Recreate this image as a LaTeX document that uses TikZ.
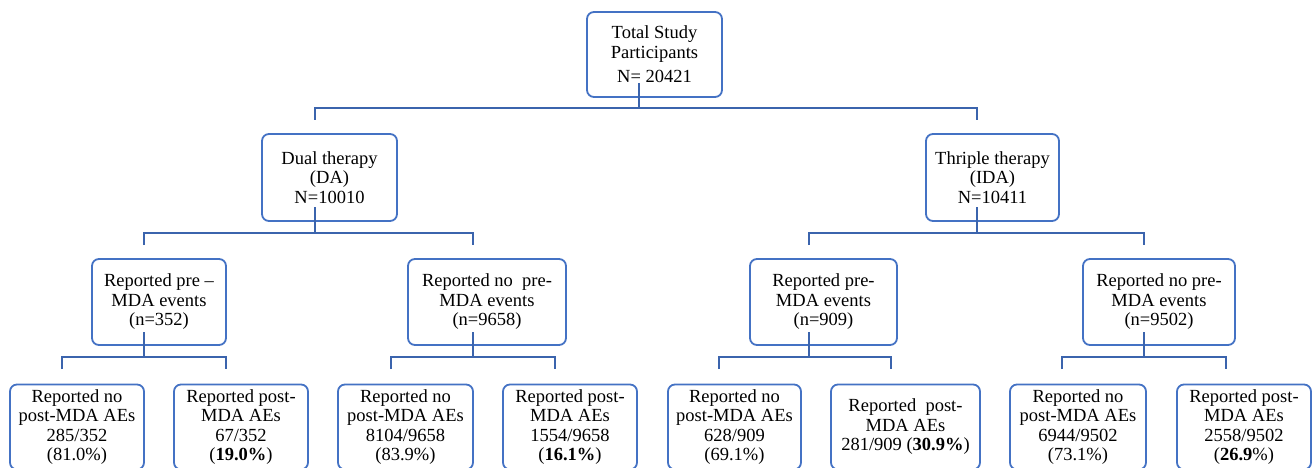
\documentclass[tikz,border=0pt]{standalone}
\usepackage{fontspec}
\setmainfont{Liberation Serif}
\definecolor{boxblue}{HTML}{4472C4}
\definecolor{lineblue}{HTML}{3B64AD}
\begin{document}
\begin{tikzpicture}[x=1pt,y=-1pt,
  box/.style={draw=boxblue, line width=1.8pt, rounded corners=7pt, align=center, inner sep=0pt,
    font=\fontsize{18.5}{19.5}\selectfont},
  conn/.style={draw=lineblue, line width=2pt}]
\useasboundingbox (0,0) rectangle (1312,468);
% level 0
\node[box, minimum width=135pt, minimum height=85pt] (top) at (654.5,54.5)
  {Total Study\\Participants\\[5pt]N= 20421};
% level 1
\node[box, minimum width=135pt, minimum height=87pt] (da) at (329.5,177.5)
  {Dual therapy\\(DA)\\N=10010};
\node[box, minimum width=133pt, minimum height=87pt] (ida) at (992.5,177.5)
  {Thriple therapy\\(IDA)\\N=10411};
% level 2
\node[box, minimum width=134pt, minimum height=86pt] (b1) at (159,302)
  {Reported pre --\\MDA events\\(n=352)};
\node[box, minimum width=158pt, minimum height=86pt] (b2) at (487,302)
  {Reported no\ \ pre-\\MDA events\\(n=9658)};
\node[box, minimum width=147pt, minimum height=86pt] (b3) at (823.5,302)
  {Reported pre-\\MDA events\\(n=909)};
\node[box, minimum width=152pt, minimum height=86pt] (b4) at (1159,302)
  {Reported no pre-\\MDA events\\(n=9502)};
% level 3
\node[box, minimum width=134pt, minimum height=85pt] (c1) at (77,427)
  {Reported no\\post-MDA AEs\\285/352\\(81.0\%)};
\node[box, minimum width=134pt, minimum height=85pt] (c2) at (241,427)
  {Reported post-\\MDA AEs\\67/352\\(\textbf{19.0\%})};
\node[box, minimum width=135pt, minimum height=85pt] (c3) at (405.5,427)
  {Reported no\\post-MDA AEs\\8104/9658\\(83.9\%)};
\node[box, minimum width=134pt, minimum height=85pt] (c4) at (570,427)
  {Reported post-\\MDA AEs\\1554/9658\\(\textbf{16.1\%})};
\node[box, minimum width=133pt, minimum height=85pt] (c5) at (734.5,427)
  {Reported no\\post-MDA AEs\\628/909\\(69.1\%)};
\node[box, minimum width=149pt, minimum height=85pt] (c6) at (905.5,427)
  {Reported\ \ post-\\MDA AEs\\281/909 (\textbf{30.9\%})};
\node[box, minimum width=136pt, minimum height=85pt] (c7) at (1078,427)
  {Reported no\\post-MDA AEs\\6944/9502\\(73.1\%)};
\node[box, minimum width=134pt, minimum height=85pt] (c8) at (1244,427)
  {Reported post-\\MDA AEs\\2558/9502\\(\textbf{26.9}\%)};
% connector points
\coordinate (top-s) at (639,83);
\coordinate (da-d) at (315,120);
\coordinate (ida-d) at (977,120);
\coordinate (da-s) at (315,207);
\coordinate (ida-s) at (977,207);
\coordinate (b1-d) at (144,245);
\coordinate (b2-d) at (473,245);
\coordinate (b3-d) at (809,245);
\coordinate (b4-d) at (1144,245);
\coordinate (b1-s) at (144,332);
\coordinate (b2-s) at (473,332);
\coordinate (b3-s) at (809,332);
\coordinate (b4-s) at (1144,332);
\coordinate (c1-d) at (62,369);
\coordinate (c2-d) at (226,369);
\coordinate (c3-d) at (391,369);
\coordinate (c4-d) at (555,369);
\coordinate (c5-d) at (719,369);
\coordinate (c6-d) at (891,369);
\coordinate (c7-d) at (1062,369);
\coordinate (c8-d) at (1226,369);
% connectors
\draw[conn] (top-s) -- (top-s |- 0,108);
\draw[conn] (da-d) |- (0,108 -| ida-d) -- (ida-d);
\draw[conn] (da-s) -- (da-s |- 0,233);
\draw[conn] (b1-d) |- (0,233 -| b2-d) -- (b2-d);
\draw[conn] (ida-s) -- (ida-s |- 0,233);
\draw[conn] (b3-d) |- (0,233 -| b4-d) -- (b4-d);
\draw[conn] (b1-s) -- (b1-s |- 0,357);
\draw[conn] (c1-d) |- (0,357 -| c2-d) -- (c2-d);
\draw[conn] (b2-s) -- (b2-s |- 0,357);
\draw[conn] (c3-d) |- (0,357 -| c4-d) -- (c4-d);
\draw[conn] (b3-s) -- (b3-s |- 0,357);
\draw[conn] (c5-d) |- (0,357 -| c6-d) -- (c6-d);
\draw[conn] (b4-s) -- (b4-s |- 0,357);
\draw[conn] (c7-d) |- (0,357 -| c8-d) -- (c8-d);
\end{tikzpicture}
\end{document}
